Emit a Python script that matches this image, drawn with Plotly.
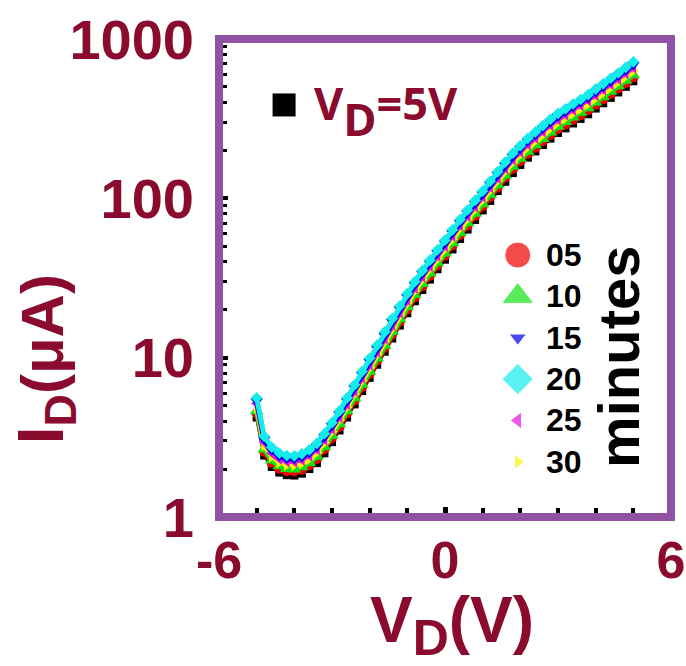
import plotly.graph_objects as go

# ---------------- data ----------------
V = [-5.0, -4.8, -4.6, -4.4, -4.2, -4.0, -3.8, -3.6, -3.4, -3.2, -3.0, -2.8, -2.6,
     -2.4, -2.2, -2.0, -1.8, -1.6, -1.4, -1.2, -1.0, -0.8, -0.6, -0.4, -0.2, 0.0,
     0.2, 0.4, 0.6, 0.8, 1.0, 1.2, 1.4, 1.6, 1.8, 2.0, 2.2, 2.4, 2.6, 2.8, 3.0,
     3.2, 3.4, 3.6, 3.8, 4.0, 4.2, 4.4, 4.6, 4.8, 5.0]

I_VD5 = [4.21, 2.43, 2.06, 1.90, 1.83, 1.82, 1.87, 2.00, 2.18, 2.51, 2.95, 3.49, 4.21,
         5.09, 6.17, 7.47, 9.03, 10.9, 13.2, 15.9, 19.0, 22.6, 26.6, 30.9, 35.9, 41.2,
         47.8, 55.6, 63.7, 73.2, 84.0, 96.3, 111, 127, 144, 162, 180, 197, 216, 237, 257,
         275, 295, 315, 337, 366, 395, 427, 462, 501, 543]
I_05 = [4.46, 2.57, 2.18, 2.01, 1.94, 1.93, 1.98, 2.11, 2.31, 2.66, 3.12, 3.69, 4.46,
        5.39, 6.53, 7.91, 9.56, 11.6, 14.0, 16.8, 20.1, 23.9, 28.1, 32.7, 37.9, 43.6,
        50.6, 58.8, 67.4, 77.4, 88.9, 102, 117, 135, 153, 171, 190, 208, 228, 250, 272,
        291, 312, 333, 357, 387, 418, 452, 489, 530, 574]
I_10 = [4.61, 2.65, 2.26, 2.08, 2.00, 1.99, 2.05, 2.18, 2.39, 2.74, 3.22, 3.82, 4.61,
        5.56, 6.75, 8.17, 9.87, 11.9, 14.5, 17.4, 20.8, 24.7, 29.0, 33.7, 39.2, 45.0,
        52.3, 60.7, 69.7, 80.0, 91.8, 105, 121, 139, 158, 177, 196, 215, 236, 259, 281,
        301, 322, 344, 368, 400, 431, 467, 505, 547, 593]
I_15 = [5.34, 3.07, 2.62, 2.41, 2.32, 2.31, 2.38, 2.53, 2.77, 3.18, 3.74, 4.43, 5.34,
        6.45, 7.83, 9.47, 11.4, 13.8, 16.8, 20.2, 24.1, 28.7, 33.7, 39.1, 45.5, 52.2,
        60.6, 70.4, 80.8, 92.8, 106, 122, 141, 161, 183, 205, 228, 250, 274, 300, 326,
        349, 374, 399, 427, 463, 500, 542, 585, 634, 688]
I_20 = [5.59, 3.21, 2.74, 2.52, 2.43, 2.42, 2.49, 2.64, 2.90, 3.33, 3.91, 4.63, 5.59,
        6.75, 8.19, 9.91, 12.0, 14.5, 17.6, 21.1, 25.2, 30.0, 35.2, 40.9, 47.5, 54.6,
        63.4, 73.6, 84.5, 97.0, 111, 128, 147, 169, 192, 214, 238, 261, 286, 314, 341,
        365, 391, 417, 447, 485, 523, 567, 612, 663, 719]
I_25 = [5.15, 2.96, 2.52, 2.32, 2.24, 2.23, 2.29, 2.44, 2.67, 3.07, 3.60, 4.26, 5.15,
        6.22, 7.54, 9.12, 11.0, 13.3, 16.2, 19.4, 23.2, 27.6, 32.4, 37.7, 43.8, 50.3,
        58.4, 67.8, 77.8, 89.4, 103, 118, 135, 155, 176, 197, 219, 240, 264, 289, 314,
        336, 360, 384, 412, 446, 482, 522, 564, 611, 663]
I_30 = [4.90, 2.82, 2.40, 2.21, 2.13, 2.12, 2.18, 2.32, 2.54, 2.92, 3.43, 4.06, 4.90,
        5.92, 7.18, 8.69, 10.5, 12.7, 15.4, 18.5, 22.1, 26.3, 30.9, 35.9, 41.7, 47.9,
        55.6, 64.6, 74.1, 85.1, 97.7, 112, 129, 148, 168, 188, 209, 229, 251, 275, 299,
        320, 343, 366, 392, 425, 459, 497, 537, 582, 631]

minutes = ["05", "10", "15", "20", "25", "30"]
series = [I_05, I_10, I_15, I_20, I_25, I_30]

x_tickvals = [-6, 0, 6]
x_ticktext = ["-6", "0", "6"]
x_minor_ticks = [-5, -4, -3, -2, -1, 1, 2, 3, 4, 5]
y_tickvals = [1, 10, 100, 1000]
y_ticktext = ["1", "10", "100", "1000"]
y_minor_ticks = [2, 3, 4, 5, 6, 7, 8, 9, 20, 30, 40, 50, 60, 70, 80, 90,
                 200, 300, 400, 500, 600, 700, 800, 900]

# ---------------- styles ----------------
DARKRED = "#8A0B2D"
PURPLE = "#9152A3"
FONT = "Liberation Sans, Arial, sans-serif"
colors = ["#F00000", "#14E014", "#0000E6", "#14ECEC", "#E414E4", "#F6F600"]
symbols = ["circle", "triangle-up", "triangle-down", "diamond", "triangle-left", "triangle-right"]
data_sizes = [10, 12, 11, 9, 11, 11]
legend_sizes = [26, 28, 15, 24, 15, 13]
# drawn from the lowest curve to the highest one
draw_order = [0, 1, 5, 4, 2, 3]

fig = go.Figure()

fig.add_trace(go.Scatter(x=V, y=I_VD5, mode="lines+markers", name="V_D=5V",
                         line=dict(color="#1A1A1A", width=3),
                         marker=dict(symbol="square", size=8, color="black"),
                         showlegend=False))
for k in draw_order:
    fig.add_trace(go.Scatter(x=V, y=series[k], mode="lines+markers", name=minutes[k],
                             line=dict(color=colors[k], width=5),
                             marker=dict(symbol=symbols[k], size=data_sizes[k],
                                         color=colors[k]),
                             showlegend=False))

# manual legend (overlay axes 0..1)
leg_x, leg_y0, leg_step = 0.661, 0.548, 0.0865
leg_ys = [leg_y0 - i * leg_step for i in range(len(minutes))]
fig.add_trace(go.Scatter(x=[leg_x] * len(minutes), y=leg_ys, mode="markers",
                         xaxis="x2", yaxis="y2", showlegend=False, hoverinfo="skip",
                         marker=dict(symbol=symbols, size=legend_sizes, color=colors)))
fig.add_trace(go.Scatter(x=[0.144], y=[0.862], mode="markers", xaxis="x2", yaxis="y2",
                         showlegend=False, hoverinfo="skip",
                         marker=dict(symbol="square", size=23, color="black")))

annotations = []
for i, m in enumerate(minutes):
    annotations.append(dict(x=0.72, y=leg_ys[i], xref="paper", yref="paper",
                            text=m, showarrow=False, xanchor="left", yanchor="middle",
                            font=dict(family=FONT, size=32, color="black", weight="bold")))
annotations.append(dict(x=0.885, y=0.335, xref="paper", yref="paper", text="minutes",
                        textangle=-90, showarrow=False, xanchor="center", yanchor="middle",
                        font=dict(family=FONT, size=58, color="black", weight="bold")))
annotations.append(dict(x=0.205, y=0.935, xref="paper", yref="paper",
                        text='V<sub><sub><span style="font-size:45px">D</span></sub></sub>=5V',
                        showarrow=False, xanchor="left", yanchor="top",
                        font=dict(family="Open Sans, sans-serif", size=45, color=DARKRED,
                                  weight="bold")))
annotations.append(dict(x=-0.385, y=0.33, xref="paper", yref="paper",
                        text='I<sub>D</sub><span style="font-size:60px">(μA)</span>',
                        textangle=-90, showarrow=False, xanchor="center", yanchor="middle",
                        font=dict(family=FONT, size=64, color=DARKRED, weight="bold")))
annotations.append(dict(x=0.515, y=-0.136, xref="paper", yref="paper",
                        text='V<sub><span style="font-size:50px">D</span></sub>(V)',
                        showarrow=False, xanchor="center", yanchor="top",
                        font=dict(family=FONT, size=64, color=DARKRED, weight="bold")))

fig.update_layout(
    width=686, height=666,
    margin=dict(l=219, r=15, t=39, b=149, pad=0, autoexpand=False),
    paper_bgcolor="white", plot_bgcolor="white",
    showlegend=False,
    xaxis=dict(range=[-6, 6], tickvals=x_tickvals, ticktext=x_ticktext,
               automargin=False,
               ticks="inside", ticklen=10, tickwidth=5, tickcolor="black",
               showgrid=False, zeroline=False, showline=False,
               ticklabelstandoff=8,
               tickfont=dict(family=FONT, size=52, color=DARKRED, weight="bold"),
               minor=dict(tickvals=x_minor_ticks, ticks="inside", ticklen=9, tickwidth=4,
                          tickcolor="black", showgrid=False)),
    yaxis=dict(type="log", range=[0, 3], tickvals=y_tickvals, ticktext=y_ticktext,
               automargin=False,
               ticks="inside", ticklen=9, tickwidth=4, tickcolor="black",
               showgrid=False, zeroline=False, showline=False,
               ticklabelstandoff=24,
               tickfont=dict(family=FONT, size=56, color=DARKRED, weight="bold"),
               minor=dict(tickvals=y_minor_ticks, ticks="inside", ticklen=8, tickwidth=3,
                          tickcolor="black", showgrid=False)),
    xaxis2=dict(range=[0, 1], overlaying="x", visible=False, fixedrange=True),
    yaxis2=dict(range=[0, 1], overlaying="y", visible=False, fixedrange=True),
    shapes=[dict(type="rect", xref="paper", yref="paper", x0=0, x1=1, y0=0, y1=1,
                 line=dict(color=PURPLE, width=8), layer="above")],
    annotations=annotations,
)

fig.write_html("out.html")
